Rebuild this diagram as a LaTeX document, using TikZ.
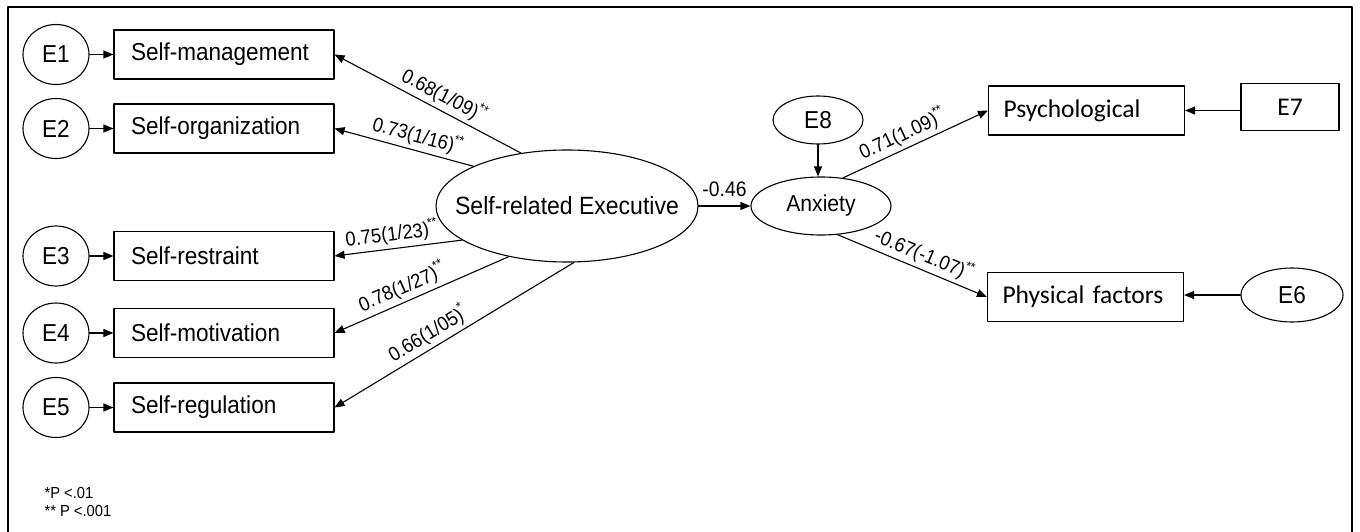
\documentclass[tikz,border=0pt]{standalone}
\usepackage{fontspec}
\setmainfont{Liberation Sans}[FakeStretch=0.92]
\newfontfamily\calfont{Carlito}
\usetikzlibrary{shapes.geometric,arrows.meta}
\newcommand{\sig}[1]{\kern-1pt\raisebox{0.45em}{\fontsize{13}{13}\selectfont#1}}

\begin{document}
\begin{tikzpicture}[x=1pt, y=-1pt, line width=1.1pt, line join=round, line cap=round,
  >={Triangle[length=10pt,width=8pt]},
  obs/.style={draw, rectangle, minimum width=220pt, minimum height=49pt, text width=186pt,
    inner xsep=17pt, align=left, font=\fontsize{24.5}{28}\selectfont},
  obsr/.style={obs, minimum width=196pt, text width=166pt, inner xsep=15pt,
    font=\calfont\fontsize{25.5}{30}\selectfont},
  err/.style={draw, ellipse, minimum width=66pt, minimum height=60pt, inner sep=0pt,
    font=\fontsize{24.5}{28}\selectfont},
  lat/.style={draw, ellipse, inner sep=0pt},
  coef/.style={font=\fontsize{20}{22}\selectfont, sloped, above}]
 \useasboundingbox (0,0) rectangle (1360,532);
 \draw[line width=2pt] (8,540) |- (1352,7) -- (1352,540);
 % indicators of the executive factor
 \foreach \i/\y/\txt in {1/54.5/Self-management, 2/128.5/Self-organization, 3/256/Self-restraint,
   4/333/Self-motivation, 5/407.5/Self-regulation}{
  \node[err] (e\i) at (56,\y) {E\i};
  \node[obs] (b\i) at (224,\y) {\txt};
  \draw[->] (e\i) -- (b\i);
 }
 % latent variables
 \node[lat, minimum width=262pt, minimum height=112pt,
   label={[font=\fontsize{25}{28}\selectfont]center:Self-related Executive}] (sre) at (567,206) {};
 \node[lat, minimum width=140pt, minimum height=58pt, font=\fontsize{23}{26}\selectfont] (anx) at (821,206) {Anxiety};
 \node[err, minimum width=90pt, minimum height=48pt] (e8) at (818,120) {E8};
 % indicators of anxiety
 \node[obsr] (psy) at (1086.5,110.5) {Psychological};
 \node[obsr] (phy) at (1085.5,297) {Physical factors};
 \node[draw, minimum width=98pt, minimum height=47pt, font=\calfont\fontsize{25.5}{30}\selectfont] (e7) at (1290,107) {E7};
 \node[err, minimum width=102pt, minimum height=54pt] (e6) at (1292,295) {E6};
 % paths
 \draw[->] (sre.131.7) -- node[coef, pos=0.45] {0.68(1/09)\sig{**}} (b1.east);
 \draw[->] (sre.157.5) -- node[coef, pos=0.43] {0.73(1/16)\sig{**}} (b2.east);
 \draw[->] (sre.198.6) -- node[coef, pos=0.54] {0.75(1/23)\sig{**}} (b3.east);
 \draw[->] (sre.221.8) -- node[coef, pos=0.58] {0.78(1/27)\sig{**}} (b4.east);
 \draw[->] (sre.277.9) -- node[coef, pos=0.58] {0.66(1/05)\sig{*}} (b5.east);
 \draw[->] (sre) -- node[above=5pt, font=\fontsize{21}{24}\selectfont] {-0.46} (anx);
 \draw[->] (e8.south) -- (e8.south |- anx.north);
 \draw[->] (anx.52.8) -- node[coef, pos=0.45] {0.71(1.09)\sig{**}} (psy.west);
 \draw[->] (anx.300.6) -- node[coef, pos=0.54] {-0.67(-1.07)\sig{**}} (phy.west);
 \draw[->] (e7.west |- psy.east) -- (psy.east);
 \draw[->] (e6.west) -- (e6.west -| phy.east);
 % significance note
 \node[anchor=north west, align=left, inner sep=0pt, font=\fontsize{16}{18}\selectfont] (note) at (44,487) {*P <.01\\** P <.001};
\end{tikzpicture}
\end{document}
